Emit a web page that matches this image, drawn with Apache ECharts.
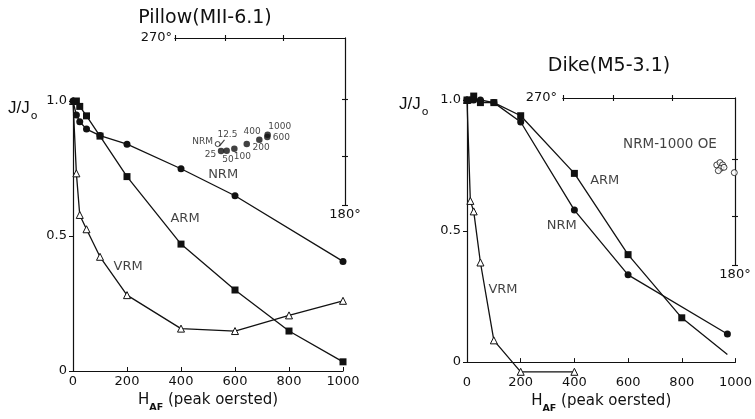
<!DOCTYPE html>
<html><head><meta charset="utf-8">
<script src="https://cdn.jsdelivr.net/npm/echarts@6/dist/echarts.min.js"></script>
<style>html,body{margin:0;padding:0;background:#fff}#c{width:755px;height:419px}</style>
</head><body><div id="c"></div>
<script>
// ---------- data ----------
const hTickStep = 200;
const pillowNrmH = [0, 12.5, 25, 50, 100, 200, 400, 600, 1000];
const pillowNrmJ = [1.0, 0.948, 0.923, 0.896, 0.872, 0.84, 0.749, 0.649, 0.406];
const pillowArmH = [12.5, 25, 50, 100, 200, 400, 600, 800, 1000];
const pillowArmJ = [1.0, 0.98, 0.945, 0.87, 0.72, 0.47, 0.30, 0.148, 0.034];
const pillowVrmH = [0, 12.5, 25, 50, 100, 200, 400, 600, 800, 1000];
const pillowVrmJ = [1.0, 0.732, 0.578, 0.525, 0.423, 0.281, 0.157, 0.148, 0.206, 0.26];

const dikeNrmH = [0, 12.5, 25, 50, 100, 200, 400, 600, 970];
const dikeNrmJ = [1.0, 1.0, 1.0, 1.0, 0.99, 0.916, 0.58, 0.333, 0.107];
const dikeArmH = [0, 25, 50, 100, 200, 400, 600, 800, 970];
const dikeArmJ = [1.0, 1.015, 0.99, 0.99, 0.94, 0.72, 0.41, 0.169, 0.029];
const dikeVrmH = [0, 12.5, 25, 50, 100, 200, 400];
const dikeVrmJ = [1.0, 0.615, 0.575, 0.38, 0.083, -0.037, -0.037];

// equal-area net quadrant (270° .. 180°), radius units
const netTicks = [-1, -0.707, -0.366];
const pillowDirStep = ['NRM', '12.5', '25', '50', '100', '200', '400', '600', '1000'];
const pillowDirX = [-0.749, -0.724, -0.729, -0.696, -0.651, -0.578, -0.504, -0.457, -0.455];
const pillowDirY = [-0.635, -0.629, -0.677, -0.675, -0.663, -0.635, -0.609, -0.593, -0.579];
const dikeDirX = [-0.106, -0.087, -0.072, -0.083, -0.064, -0.097, -0.004];
const dikeDirY = [-0.401, -0.387, -0.401, -0.421, -0.415, -0.435, -0.447];

// curve labels
const pillowLabelText = ['NRM', 'ARM', 'VRM'];
const pillowLabelH = [556, 415, 204];
const pillowLabelJ = [0.726, 0.566, 0.386];
const dikeLabelText = ['ARM', 'NRM', 'VRM'];
const dikeLabelH = [513, 353, 134];
const dikeLabelJ = [0.691, 0.519, 0.278];
const dikeNetLabel = 'NRM-1000 OE';
const dikeNetLabelX = -0.378, dikeNetLabelY = -0.281;

// ---------- styling / layout ----------
const INK = '#111';
const FONT = 'DejaVu Sans';
const pillowDirLabelOffset = {
  'NRM': [-15, -2], '12.5': [5.5, -8], '25': [-10.5, 3.5], '50': [1.3, 8.6],
  '100': [8, 7.7], '200': [14.3, 4], '400': [-7.3, -8.3], '600': [14, 1], '1000': [12, -7.6]
};

const hafName = {
  name: '{h|H}{s|AF}{t| (peak oersted)}',
  nameLocation: 'middle',
  nameTextStyle: {
    rich: {
      h: { fontSize: 15, fontFamily: FONT, color: INK, verticalAlign: 'bottom', padding: [0, 0, 5, 0] },
      s: { fontSize: 9.5, fontFamily: FONT, color: INK, verticalAlign: 'bottom', fontWeight: 'bold' },
      t: { fontSize: 15, fontFamily: FONT, color: INK, verticalAlign: 'bottom', padding: [0, 0, 5, 0] }
    }
  }
};

function mainX(grid, gap, margin) {
  return Object.assign({
    gridIndex: grid, type: 'value', min: 0, max: 1000, interval: hTickStep,
    axisLine: { onZero: false, lineStyle: { color: INK, width: 1.2 } },
    axisTick: { show: true, inside: true, length: 4, lineStyle: { color: INK } },
    axisLabel: { color: INK, fontSize: 13, fontFamily: FONT, margin: margin, formatter: v => String(v) },
    splitLine: { show: false },
    nameGap: gap
  }, hafName);
}
function mainY(grid) {
  return {
    gridIndex: grid, type: 'value', min: 0, max: 1, interval: 0.5,
    axisLine: { show: true, onZero: false, lineStyle: { color: INK, width: 1.2 } },
    axisTick: { show: true, length: 4, lineStyle: { color: INK } },
    axisLabel: { color: INK, fontSize: 13, fontFamily: FONT, margin: 6,
      formatter: v => (v === 0 ? '0' : v.toFixed(1)) },
    splitLine: { show: false }
  };
}
function netX(grid, inside, name, gap) {
  return {
    gridIndex: grid, type: 'value', position: 'top', min: -1, max: 0,
    axisLine: { show: true, onZero: false, lineStyle: { color: INK, width: 1.1 } },
    axisTick: { show: true, inside: inside, length: 3, customValues: netTicks, lineStyle: { color: INK, width: 1.1 } },
    axisLabel: { show: false }, splitLine: { show: false },
    name: name, nameLocation: 'start', nameGap: gap,
    nameTextStyle: { color: INK, fontSize: 13, fontFamily: FONT }
  };
}
function netY(grid, inside, name, gap) {
  return {
    gridIndex: grid, type: 'value', position: 'right', min: -1, max: 0,
    axisLine: { show: true, onZero: false, lineStyle: { color: INK, width: 1.1 } },
    axisTick: { show: true, inside: inside, length: 3, customValues: netTicks, lineStyle: { color: INK, width: 1.1 } },
    axisLabel: { show: false }, splitLine: { show: false },
    name: name, nameLocation: 'start', nameGap: gap,
    nameTextStyle: { color: INK, fontSize: 13, fontFamily: FONT }
  };
}

function zip(a, b) { return a.map((v, i) => [v, b[i]]); }

function curve(ax, H, J, symbol, empty, hideLastMarker) {
  const data = zip(H, J).map((p, i) => {
    if (hideLastMarker && i === H.length - 1) return { value: p, symbol: 'none' };
    return { value: p };
  });
  return {
    type: 'line', xAxisIndex: ax, yAxisIndex: ax, data: data, clip: false,
    symbol: symbol, symbolSize: 7,
    lineStyle: { color: INK, width: 1.3 },
    itemStyle: empty ? { color: '#fff', borderColor: INK, borderWidth: 1 } : { color: INK, borderWidth: 0 },
    z: empty ? 3 : 4
  };
}
const labelText = { color: INK, fontFamily: FONT, textBorderWidth: 0, textShadowBlur: 0 };
function textSeries(ax, texts, xs, ys, size) {
  return {
    type: 'scatter', xAxisIndex: ax, yAxisIndex: ax, symbolSize: 0, silent: true, clip: false,
    data: texts.map((t, i) => ({ name: t, value: [xs[i], ys[i]] })),
    label: Object.assign({ show: true, position: 'inside', formatter: p => p.name, fontSize: size }, labelText)
  };
}

const pillowDirData = pillowDirStep.map((s, i) => {
  const item = { name: s, value: [pillowDirX[i], pillowDirY[i]],
    label: { offset: pillowDirLabelOffset[s] } };
  if (s === 'NRM') { item.symbol = 'circle'; item.itemStyle = { color: '#fff', borderColor: INK, borderWidth: 1 }; item.symbolSize = 5; }
  if (s === '12.5') { item.symbol = 'rect'; item.symbolSize = [1.2, 8]; item.symbolRotate = -40; }
  return item;
});

const option = {
  animation: false,
  backgroundColor: '#fff',
  textStyle: { fontFamily: FONT, color: INK },
  title: [
    { text: 'Pillow(MII-6.1)', left: 200, top: 4, textAlign: 'center',
      textStyle: { fontSize: 19, fontWeight: 'normal', color: INK, fontFamily: FONT } },
    { text: 'Dike(M5-3.1)', left: 604, top: 52, textAlign: 'center',
      textStyle: { fontSize: 19, fontWeight: 'normal', color: INK, fontFamily: FONT } }
  ],
  grid: [
    { left: 73, top: 101, width: 270, height: 270 },
    { left: 467, top: 100, width: 269, height: 270 },
    { left: 175, top: 38, width: 170, height: 167 },
    { left: 563, top: 98, width: 172, height: 167 }
  ],
  xAxis: [
    mainX(0, 22, 4), mainX(1, 29, 14),
    netX(2, false, '270°', 3), netX(2, true, '', 3),
    netX(3, false, '270°', 6), netX(3, true, '', 3)
  ],
  yAxis: [
    mainY(0), mainY(1),
    netY(2, false, '180°', 3), netY(2, true, '', 3),
    netY(3, false, '180°', 3), netY(3, true, '', 3)
  ],
  graphic: [
    { type: 'text', left: 8, top: 100, style: { text: '{a|J/J}{b|o}',
      rich: { a: { fontSize: 17, fontFamily: 'Liberation Sans', fill: INK, verticalAlign: 'bottom', padding: [0, 1, 5, 0] },
              b: { fontSize: 11, fontFamily: FONT, fill: INK, verticalAlign: 'bottom' } } } },
    { type: 'text', left: 399, top: 96, style: { text: '{a|J/J}{b|o}',
      rich: { a: { fontSize: 17, fontFamily: 'Liberation Sans', fill: INK, verticalAlign: 'bottom', padding: [0, 1, 5, 0] },
              b: { fontSize: 11, fontFamily: FONT, fill: INK, verticalAlign: 'bottom' } } } }
  ],
  series: [
    curve(0, pillowVrmH, pillowVrmJ, 'triangle', true, false),
    curve(0, pillowNrmH, pillowNrmJ, 'circle', false, false),
    curve(0, pillowArmH, pillowArmJ, 'rect', false, false),
    textSeries(0, pillowLabelText, pillowLabelH, pillowLabelJ, 13),

    curve(1, dikeVrmH, dikeVrmJ, 'triangle', true, false),
    curve(1, dikeNrmH, dikeNrmJ, 'circle', false, false),
    curve(1, dikeArmH, dikeArmJ, 'rect', false, true),
    textSeries(1, dikeLabelText, dikeLabelH, dikeLabelJ, 13),

    { type: 'scatter', xAxisIndex: 2, yAxisIndex: 2, data: pillowDirData, clip: false,
      symbol: 'circle', symbolSize: 6.5, itemStyle: { color: INK },
      label: Object.assign({ show: true, position: 'inside', formatter: p => p.name, fontSize: 9 }, labelText) },

    { type: 'scatter', xAxisIndex: 4, yAxisIndex: 4, data: zip(dikeDirX, dikeDirY), clip: false,
      symbol: 'circle', symbolSize: 6, itemStyle: { color: '#fff', borderColor: INK, borderWidth: 1 } },
    textSeries(4, [dikeNetLabel], [dikeNetLabelX], [dikeNetLabelY], 13.5)
  ]
};

const chart = echarts.init(document.getElementById('c'), null, { renderer: 'canvas' });
chart.setOption(option);
</script></body></html>
